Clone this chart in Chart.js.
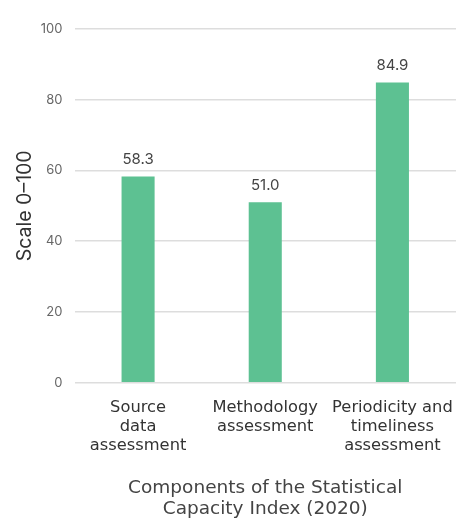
<!DOCTYPE html>
<html>
<head>
<meta charset="utf-8">
<script src="https://cdn.jsdelivr.net/npm/chart.js@4"></script>
<style>
  html, body { margin: 0; padding: 0; background: #fff; }
  #wrap { width: 456px; height: 518px; }
</style>
</head>
<body>
<div id="wrap"><canvas id="chart" width="456" height="518"></canvas></div>
<script>
// Components of the Statistical Capacity Index, 2020 (scale 0–100)
const categories = [
  ["Source", "data", "assessment"],
  ["Methodology", "assessment"],
  ["Periodicity and", "timeliness", "assessment"]
];
const scores = [58.3, 51.0, 84.9];
const yTicks = [0, 20, 40, 60, 80, 100];

const FONT = "'DejaVu Sans', sans-serif";
const SIDE_FONT = "Inter, 'Open Sans', sans-serif";

// Print each bar's value just above it
const valueLabels = {
  id: "valueLabels",
  afterDatasetsDraw(chart) {
    const ctx = chart.ctx;
    const meta = chart.getDatasetMeta(0);
    ctx.save();
    ctx.font = "15px " + SIDE_FONT;
    ctx.fillStyle = "#444";
    ctx.textAlign = "center";
    ctx.textBaseline = "bottom";
    meta.data.forEach((bar, i) => {
      ctx.fillText(scores[i].toFixed(1), bar.x, bar.y - 9);
    });
    ctx.restore();
  }
};

new Chart(document.getElementById("chart"), {
  type: "bar",
  data: {
    labels: categories,
    datasets: [{
      data: scores,
      backgroundColor: "#5dc192",
      borderWidth: 0,
      barPercentage: 0.26,
      categoryPercentage: 1
    }]
  },
  options: {
    responsive: false,
    animation: false,
    devicePixelRatio: 1,
    layout: { padding: { top: 29, right: -3, bottom: -2, left: 0 } },
    plugins: {
      legend: { display: false },
      tooltip: { enabled: false }
    },
    scales: {
      y: {
        min: 0,
        max: 100,
        afterBuildTicks(scale) {
          scale.ticks = yTicks.map(v => ({ value: v }));
        },
        afterFit(scale) { scale.width = 74.5; },
        border: { display: false },
        grid: { color: "#dddddd", lineWidth: 1.5, drawTicks: false },
        ticks: {
          padding: 12,
          color: "#666",
          font: { family: SIDE_FONT, size: 13 }
        },
        title: {
          display: true,
          text: "Scale 0–100",
          color: "#333",
          font: { family: SIDE_FONT, size: 19.5 },
          padding: { top: 13, bottom: 0 }
        }
      },
      x: {
        afterFit(scale) {
          // let the outer category labels overhang instead of shrinking the plot
          scale.paddingLeft = 0;
          scale.paddingRight = 0;
        },
        border: { display: false },
        grid: { display: false, drawTicks: false },
        ticks: {
          padding: 15,
          color: "#333",
          maxRotation: 0,
          autoSkip: false,
          font: { family: FONT, size: 16.3, lineHeight: 1.19 }
        },
        title: {
          display: true,
          text: ["Components of the Statistical", "Capacity Index (2020)"],
          color: "#444",
          font: { family: FONT, size: 18.5, lineHeight: 1.14 },
          padding: { top: 7, bottom: 0 }
        }
      }
    }
  },
  plugins: [valueLabels]
});
</script>
</body>
</html>
